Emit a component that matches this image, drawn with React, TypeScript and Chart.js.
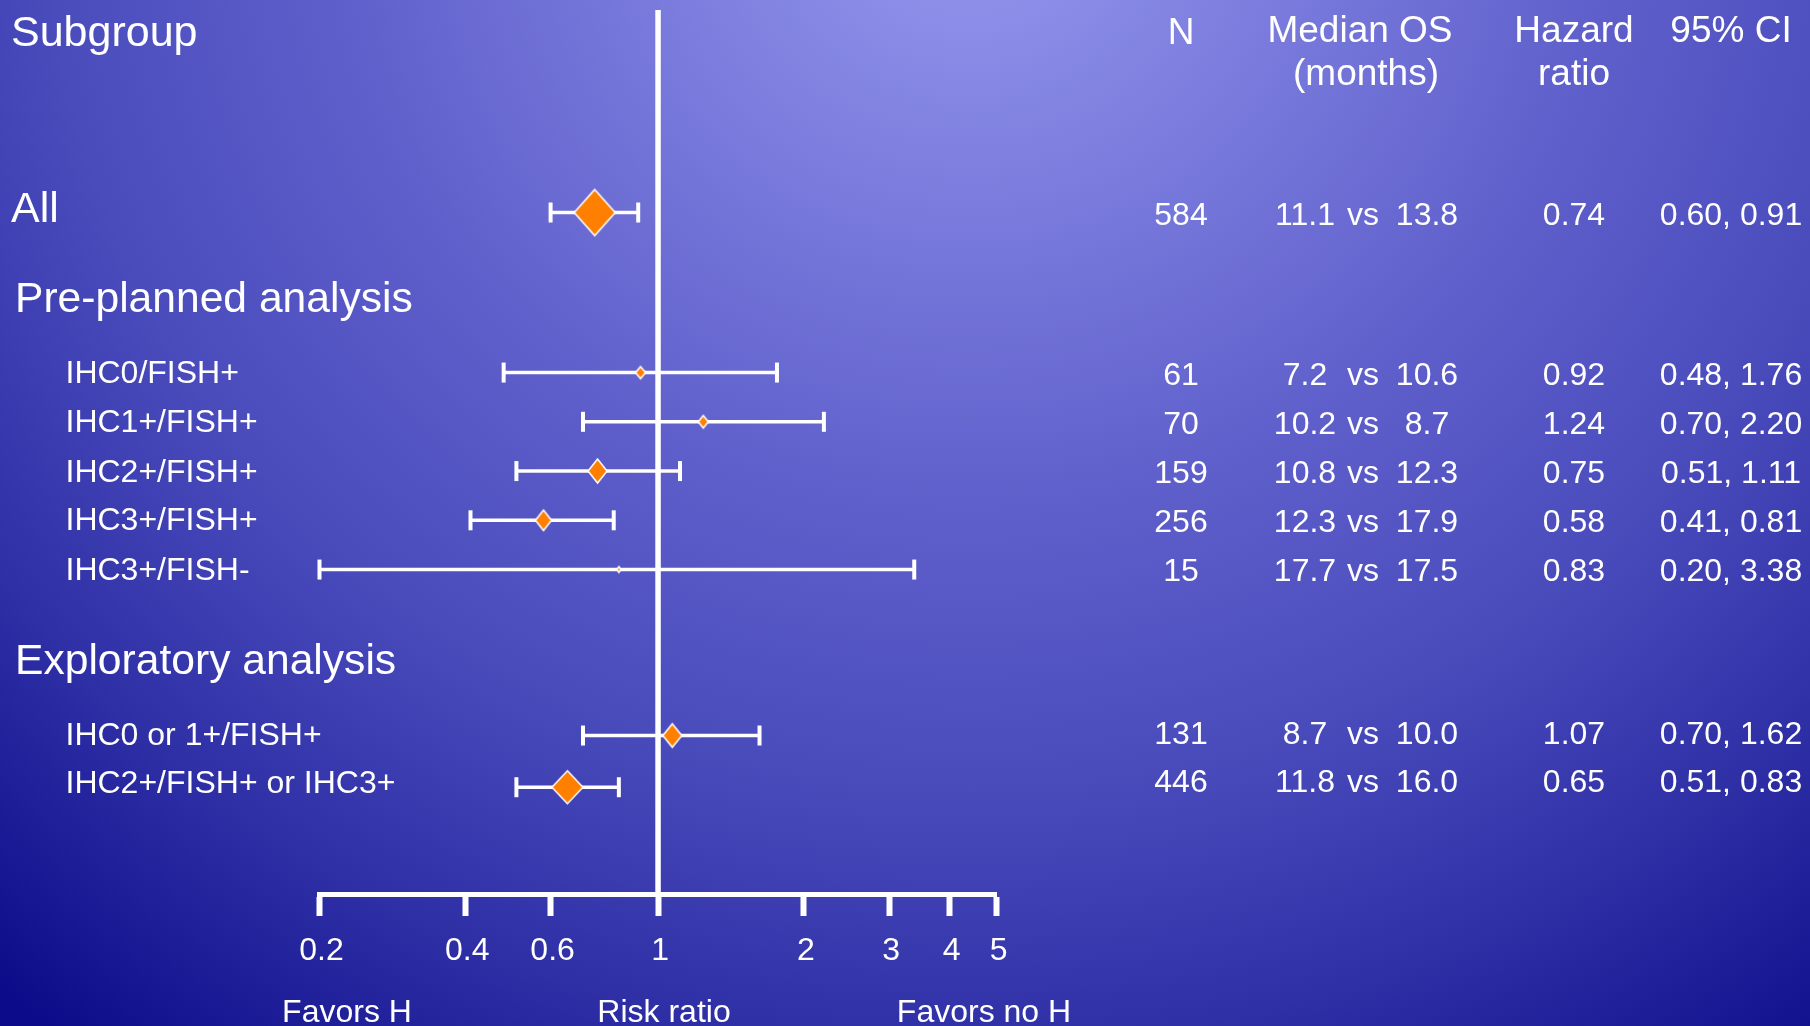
import React, { useEffect, useRef } from "react";
import { Chart, registerables } from "chart.js";

Chart.register(...registerables);

// ---------------- DATA ----------------
const subgroups = [
  "All",
  "IHC0/FISH+",
  "IHC1+/FISH+",
  "IHC2+/FISH+",
  "IHC3+/FISH+",
  "IHC3+/FISH-",
  "IHC0 or 1+/FISH+",
  "IHC2+/FISH+ or IHC3+",
];
const nPatients = ["584", "61", "70", "159", "256", "15", "131", "446"];
const medianOsA = ["11.1", "7.2", "10.2", "10.8", "12.3", "17.7", "8.7", "11.8"];
const medianOsB = ["13.8", "10.6", "8.7", "12.3", "17.9", "17.5", "10.0", "16.0"];
const hazardRatio = [0.74, 0.92, 1.24, 0.75, 0.58, 0.83, 1.07, 0.65];
const ciLower = [0.6, 0.48, 0.7, 0.51, 0.41, 0.2, 0.7, 0.51];
const ciUpper = [0.91, 1.76, 2.2, 1.11, 0.81, 3.38, 1.62, 0.83];
const hrLabels = ["0.74", "0.92", "1.24", "0.75", "0.58", "0.83", "1.07", "0.65"];
const ciLabels = [
  "0.60, 0.91",
  "0.48, 1.76",
  "0.70, 2.20",
  "0.51, 1.11",
  "0.41, 0.81",
  "0.20, 3.38",
  "0.70, 1.62",
  "0.51, 0.83",
];
const sectionHeadings = ["Pre-planned analysis", "Exploratory analysis"];
const xTickValues = [0.2, 0.4, 0.6, 1, 2, 3, 4, 5];
const nullEffect = 1;
const axisNotes = ["Favors H", "Risk ratio", "Favors no H"];

// ---------------- LAYOUT / STYLE ----------------
const W = 1810;
const H = 1026;
const FONT = '"Liberation Sans", Arial, sans-serif';
const CAP = 0.345;
const AREA_LEFT = 319.5;
const AREA_RIGHT = 996.6;
const AREA_TOP = 10;
const AREA_BOTTOM = 894;
const AXIS_H = 100;
const Y_MIN = -4.112;
const Y_MAX = 13.838;
const ROW_SLOT = [0, 3.25, 4.25, 5.25, 6.25, 7.25, 10.62, 11.67];
const TEXT_DY = [1, 1, 1, 1, 0.5, 0.5, -3, -6];
const LABEL_DY = [0, -1.5, -1.5, -1.5, -1.5, -1.5, 1, 1];
const HEADING_SLOT = [1.72, 9.08];
const HEAD_SIZE = 42.6;
const DIAMOND_HW = [20.5, 5, 5, 9.5, 8, 2, 9.5, 15.5];
const DIAMOND_HH = [23, 6, 6.2, 12, 10.3, 3, 11.7, 16.5];
const ORANGE = "#ff8000";

function makeDiamond(hw: number, hh: number): HTMLCanvasElement {
  const c = document.createElement("canvas");
  const w = Math.ceil(2 * hw + 4);
  const h = Math.ceil(2 * hh + 4);
  c.width = w;
  c.height = h;
  const g = c.getContext("2d")!;
  const cx = w / 2;
  const cy = h / 2;
  g.beginPath();
  g.moveTo(cx, cy - hh);
  g.lineTo(cx + hw, cy);
  g.lineTo(cx, cy + hh);
  g.lineTo(cx - hw, cy);
  g.closePath();
  g.fillStyle = ORANGE;
  g.fill();
  g.lineWidth = 1.5;
  g.strokeStyle = "#ffffff";
  g.stroke();
  return c;
}

const textPlugin = {
  id: "forestText",
  afterDraw(chart: any) {
    const ctx = chart.ctx as CanvasRenderingContext2D;
    const ys = chart.scales.y;
    ctx.save();
    ctx.fillStyle = "#ffffff";
    ctx.textBaseline = "alphabetic";
    const put = (t: string, x: number, baseline: number, size: number, align: CanvasTextAlign) => {
      ctx.font = `${size}px ${FONT}`;
      ctx.textAlign = align;
      ctx.fillText(t, x, baseline);
    };
    const putC = (t: string, x: number, center: number, size: number, align: CanvasTextAlign) =>
      put(t, x, center + CAP * size, size, align);

    // column headers
    put("Subgroup", 11, 46, 43, "left");
    put("N", 1181, 44, 37, "center");
    put("Median OS", 1360, 42, 37, "center");
    put("(months)", 1366, 85, 37, "center");
    put("Hazard", 1574, 42, 37, "center");
    put("ratio", 1574, 85, 37, "center");
    put("95% CI", 1731, 42, 37, "center");

    // section headings
    sectionHeadings.forEach((h, i) => {
      putC(h, 15, ys.getPixelForValue(HEADING_SLOT[i]), HEAD_SIZE, "left");
    });

    // rows
    subgroups.forEach((s, i) => {
      const ry = ys.getPixelForValue(ROW_SLOT[i]);
      const ty = ry + TEXT_DY[i];
      if (i === 0) putC(s, 11, ry - 5, 43, "left");
      else putC(s, 65.5, ty + LABEL_DY[i], 32, "left");
      putC(nPatients[i], 1181, ty, 32, "center");
      putC(medianOsA[i], 1305, ty, 32, "center");
      putC("vs", 1363, ty, 32, "center");
      putC(medianOsB[i], 1427, ty, 32, "center");
      putC(hrLabels[i], 1574, ty, 32, "center");
      putC(ciLabels[i], 1731, ty, 32, "center");
    });

    // axis notes
    put(axisNotes[0], 347, 1022, 32, "center");
    put(axisNotes[1], 664, 1022, 32, "center");
    put(axisNotes[2], 984, 1022, 32, "center");
    ctx.restore();
  },
};

export default function App() {
  const ref = useRef<HTMLCanvasElement | null>(null);

  useEffect(() => {
    document.body.style.margin = "0";
    const canvas = ref.current;
    if (!canvas) return;
    const diamonds = hazardRatio.map((_, i) => makeDiamond(DIAMOND_HW[i], DIAMOND_HH[i]));

    const ciDatasets = hazardRatio.map((_, i) => ({
      type: "line" as const,
      data: [
        { x: ciLower[i], y: ROW_SLOT[i] },
        { x: ciUpper[i], y: ROW_SLOT[i] },
      ],
      borderColor: "#ffffff",
      borderWidth: 3.5,
      pointStyle: "line" as const,
      pointRotation: 90,
      pointRadius: 10,
      pointBorderWidth: 4,
      pointBorderColor: "#ffffff",
      pointBackgroundColor: "#ffffff",
      clip: false as any,
      order: 1,
    }));

    const chart = new Chart(canvas, {
      type: "scatter",
      data: {
        datasets: [
          {
            type: "scatter" as const,
            data: hazardRatio.map((hr, i) => ({ x: hr, y: ROW_SLOT[i] })),
            pointStyle: diamonds as any,
            pointRadius: 5,
            clip: false as any,
            order: 0,
          },
          ...ciDatasets,
          {
            type: "line" as const,
            data: [
              { x: nullEffect, y: Y_MIN },
              { x: nullEffect, y: Y_MAX },
            ],
            borderColor: "#ffffff",
            borderWidth: 5.5,
            pointRadius: 0,
            clip: false as any,
            order: 2,
          },
        ] as any,
      },
      options: {
        animation: false,
        responsive: false,
        maintainAspectRatio: false,
        events: [],
        layout: {
          autoPadding: false,
          padding: {
            left: AREA_LEFT,
            right: W - AREA_RIGHT,
            top: AREA_TOP,
            bottom: H - AREA_BOTTOM - AXIS_H,
          },
        },
        plugins: {
          legend: { display: false },
          tooltip: { enabled: false },
        },
        scales: {
          x: {
            type: "logarithmic",
            position: "bottom",
            min: 0.2,
            max: 5,
            afterBuildTicks: (s: any) => {
              s.ticks = xTickValues.map((v) => ({ value: v }));
            },
            afterFit: (s: any) => {
              s.height = AXIS_H;
            },
            grid: {
              display: true,
              drawOnChartArea: false,
              drawTicks: true,
              tickLength: 22,
              tickWidth: 6,
              tickColor: "#ffffff",
              color: "#ffffff",
            },
            border: { display: true, color: "#ffffff", width: 5 },
            ticks: {
              color: "#ffffff",
              font: { family: FONT, size: 32 },
              padding: 16,
              labelOffset: 2,
              autoSkip: false,
              maxRotation: 0,
              minRotation: 0,
              callback: (v: any) => String(v),
            },
          },
          y: {
            type: "linear",
            display: false,
            min: Y_MIN,
            max: Y_MAX,
            reverse: true,
          },
        },
      } as any,
      plugins: [textPlugin],
    });
    return () => chart.destroy();
  }, []);

  return (
    <div
      style={{
        position: "absolute",
        left: 0,
        top: 0,
        width: W,
        height: H,
        overflow: "hidden",
        background:
          "radial-gradient(1495px 1430px at 970px -100px, #9294ec 0%, #8c8ee8 7.7%, #6060cc 42%, #4a4cbc 61.5%, #3434aa 77%, #0c0c8a 100%)",
      }}
    >
      <canvas ref={ref} width={W} height={H} style={{ display: "block", width: W, height: H }} />
    </div>
  );
}
